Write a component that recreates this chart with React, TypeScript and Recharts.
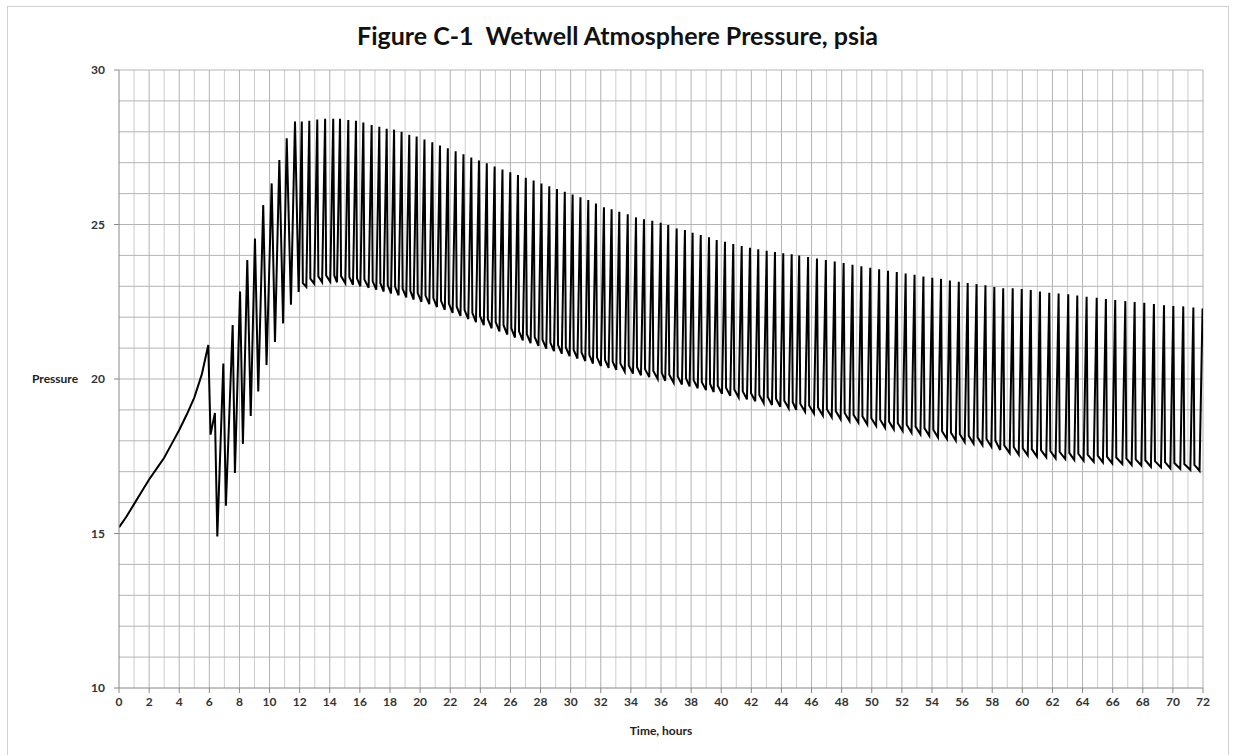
import { LineChart, Line, XAxis, YAxis, ReferenceLine } from 'recharts'

// hours 0..11.9: build-up, first vent openings and the widening early cycles
const warmHours = [
  0, 0.5, 1, 1.5, 2, 2.5, 3, 3.5, 4, 4.5, 5, 5.5, 5.93, 6.08, 6.37, 6.53, 6.93, 7.1, 7.55, 7.7,
  8.04, 8.23, 8.52, 8.75, 9.03, 9.25, 9.58, 9.8, 10.14, 10.36, 10.65, 10.9, 11.14, 11.42, 11.69, 11.93,
]
const warmPsia = [
  15.2, 15.55, 15.95, 16.35, 16.75, 17.1, 17.45, 17.9, 18.35, 18.85, 19.4, 20.15, 21.1, 18.2, 18.9, 14.9, 20.5, 15.9, 21.75, 16.96,
  22.83, 17.9, 23.85, 18.8, 24.55, 19.6, 25.63, 20.45, 26.33, 21.2, 27.09, 21.8, 27.79, 22.4, 28.33, 22.82,
]

// regular cycling from 12 h on: one entry per pressure peak
const peakHours = [
  12.14, 12.64, 13.17, 13.69, 14.23, 14.68, 15.23, 15.74, 16.23, 16.78, 17.29, 17.78, 18.27, 18.77, 19.28, 19.77,
  20.29, 20.81, 21.32, 21.84, 22.36, 22.88, 23.4, 23.91, 24.43, 24.95, 25.47, 25.99, 26.5, 27.02, 27.54, 28.06, 28.58, 29.09, 29.61, 30.13, 30.65, 31.17, 31.68,
  32.21, 32.72, 33.23, 33.79, 34.34, 34.87, 35.42, 35.98, 36.48, 37.04, 37.59, 38.1, 38.64, 39.19, 39.7, 40.25, 40.8, 41.36, 41.91, 42.46, 43.02, 43.57, 44.12, 44.68, 45.18,
  45.77, 46.36, 46.95, 47.54, 48.13, 48.72, 49.31, 49.9, 50.49, 51.08, 51.66, 52.25, 52.84, 53.43, 54.02, 54.6, 55.19, 55.78, 56.37, 56.96, 57.55, 58.14,
  58.73, 59.36, 59.96, 60.56, 61.17, 61.79, 62.41, 63.05, 63.65, 64.27, 64.94, 65.55, 66.17, 66.84, 67.46, 68.1, 68.74, 69.41, 70.03, 70.69, 71.36, 71.97,
]
const peakPsia = [
  28.33, 28.36, 28.4, 28.42, 28.42, 28.42, 28.38, 28.36, 28.3, 28.22, 28.16, 28.1, 28.07, 28.0, 27.9, 27.85,
  27.75, 27.66, 27.56, 27.47, 27.37, 27.27, 27.17, 27.07, 26.98, 26.88, 26.78, 26.69, 26.6, 26.51, 26.42, 26.33, 26.24, 26.15, 26.06, 25.97, 25.88, 25.79, 25.68,
  25.56, 25.49, 25.41, 25.33, 25.23, 25.17, 25.12, 25.06, 24.98, 24.87, 24.82, 24.73, 24.66, 24.59, 24.5, 24.44, 24.37, 24.3, 24.25, 24.2, 24.15, 24.11, 24.07, 24.04, 24.0,
  23.95, 23.9, 23.85, 23.8, 23.75, 23.7, 23.65, 23.6, 23.55, 23.5, 23.46, 23.41, 23.37, 23.32, 23.28, 23.24, 23.19, 23.15, 23.11, 23.07, 23.03, 22.98,
  22.94, 22.94, 22.91, 22.88, 22.83, 22.79, 22.77, 22.74, 22.7, 22.66, 22.63, 22.59, 22.56, 22.52, 22.49, 22.47, 22.43, 22.39, 22.36, 22.35, 22.31, 22.28,
]
// lowest pressure just before each peak's rise
const lowPsia = [
  22.88, 22.98, 23.08, 23.13, 23.15, 23.13, 23.1, 23.05, 23.0, 22.95, 22.89, 22.83, 22.77, 22.71, 22.64, 22.57,
  22.5, 22.42, 22.33, 22.24, 22.14, 22.04, 21.94, 21.84, 21.74, 21.64, 21.54, 21.44, 21.34, 21.25, 21.16, 21.07, 20.98, 20.9, 20.82, 20.74, 20.66, 20.58, 20.5,
  20.42, 20.36, 20.3, 20.24, 20.18, 20.12, 20.06, 20.0, 19.94, 19.88, 19.82, 19.76, 19.7, 19.64, 19.58, 19.52, 19.46, 19.4, 19.34, 19.28, 19.22, 19.16, 19.1, 19.05, 19.0,
  18.94, 18.88, 18.82, 18.76, 18.7, 18.64, 18.59, 18.53, 18.48, 18.42, 18.37, 18.32, 18.26, 18.21, 18.16, 18.11, 18.06, 18.01, 17.96, 17.91, 17.86, 17.81,
  17.7, 17.6, 17.55, 17.53, 17.49, 17.47, 17.43, 17.41, 17.38, 17.36, 17.32, 17.3, 17.27, 17.25, 17.22, 17.2, 17.16, 17.14, 17.11, 17.09, 17.06, 17.03,
]
// pressure right after the vent drop that follows each peak
const dropPsia = [
  23.1, 23.25, 23.32, 23.35, 23.35, 23.33, 23.3, 23.26, 23.22, 23.16, 23.1, 23.04, 22.98, 22.92, 22.85, 22.78,
  22.7, 22.62, 22.53, 22.44, 22.34, 22.24, 22.14, 22.04, 21.94, 21.84, 21.74, 21.64, 21.54, 21.45, 21.36, 21.27, 21.18, 21.1, 21.02, 20.94, 20.86, 20.78, 20.7,
  20.62, 20.56, 20.5, 20.44, 20.38, 20.32, 20.26, 20.2, 20.14, 20.08, 20.02, 19.96, 19.9, 19.84, 19.78, 19.72, 19.66, 19.6, 19.54, 19.48, 19.42, 19.36, 19.3, 19.25, 19.2,
  19.14, 19.08, 19.02, 18.96, 18.9, 18.84, 18.79, 18.73, 18.68, 18.62, 18.57, 18.52, 18.46, 18.41, 18.36, 18.31, 18.26, 18.21, 18.16, 18.11, 18.06, 18.01,
  17.85, 17.8, 17.76, 17.73, 17.7, 17.67, 17.64, 17.61, 17.58, 17.55, 17.52, 17.49, 17.46, 17.43, 17.4, 17.37, 17.34, 17.31, 17.28, 17.25, 17.22,
]

const xTicks = [0, 2, 4, 6, 8, 10, 12, 14, 16, 18, 20, 22, 24, 26, 28, 30, 32, 34, 36, 38, 40, 42, 44, 46, 48, 50, 52, 54, 56, 58, 60, 62, 64, 66, 68, 70, 72]
const yTicks = [10, 15, 20, 25, 30]
const gridHours = Array.from({ length: 72 }, (_, i) => i + 1)
const gridPsia = Array.from({ length: 20 }, (_, i) => i + 11)

// how long the rise before a peak and the vent drop after it take, hours
const RISE = 0.2
const FALL = 0.07

const data: { hour: number; psia: number }[] = []
warmHours.forEach((h, i) => data.push({ hour: h, psia: warmPsia[i] }))
peakHours.forEach((h, i) => {
  data.push({ hour: h - RISE, psia: lowPsia[i] })
  data.push({ hour: h, psia: peakPsia[i] })
  if (i < dropPsia.length) data.push({ hour: h + FALL, psia: dropPsia[i] })
})

const font = 'Lato, "Open Sans", sans-serif'
const tickStyle = { fill: '#333', fontSize: 12, fontWeight: 700, fontFamily: font }

export default function App() {
  return (
    <div style={{ position: 'absolute', left: 0, top: 0, width: 1235, height: 755, background: '#fff', overflow: 'hidden' }}>
      <div style={{ position: 'absolute', left: 7, top: 6, width: 1220, height: 780, border: '1px solid #d0d0d0' }} />
      <div style={{ position: 'absolute', left: 0, top: 20, width: 1235, textAlign: 'center', whiteSpace: 'pre',
        fontFamily: font, fontWeight: 700, fontSize: 25, color: '#111' }}>
        Figure C-1  Wetwell Atmosphere Pressure, psia
      </div>
      <div style={{ position: 'absolute', left: 0, top: 0 }}>
        <LineChart width={1235} height={755} data={data} margin={{ top: 70, right: 32, bottom: 12, left: 0 }}>
          {gridHours.map((h) => (
            <ReferenceLine key={'vx' + h} x={h} stroke={h % 2 === 0 ? '#b2b2b2' : '#cdcdcd'} strokeWidth={1} />
          ))}
          {gridPsia.map((v) => (
            <ReferenceLine key={'hy' + v} y={v} stroke="#b4b4b4" strokeWidth={1} />
          ))}
          <XAxis
            type="number"
            dataKey="hour"
            domain={[0, 72]}
            ticks={xTicks}
            interval={0}
            allowDataOverflow
            height={55}
            stroke="#888"
            tickSize={5}
            tickMargin={4}
            tick={tickStyle}
            label={{ value: 'Time, hours', position: 'insideBottom', offset: 8, style: { ...tickStyle, fill: '#222' } }}
          />
          <YAxis
            type="number"
            domain={[10, 30]}
            ticks={yTicks}
            interval={0}
            allowDataOverflow
            width={119}
            stroke="#888"
            tickSize={5}
            tickMargin={9}
            tick={tickStyle}
            label={{ value: 'Pressure', position: 'insideLeft', offset: 32, style: { ...tickStyle, fill: '#222' } }}
          />
          <Line
            type="linear"
            dataKey="psia"
            stroke="#000"
            strokeWidth={2}
            dot={false}
            isAnimationActive={false}
          />
        </LineChart>
      </div>
    </div>
  )
}
